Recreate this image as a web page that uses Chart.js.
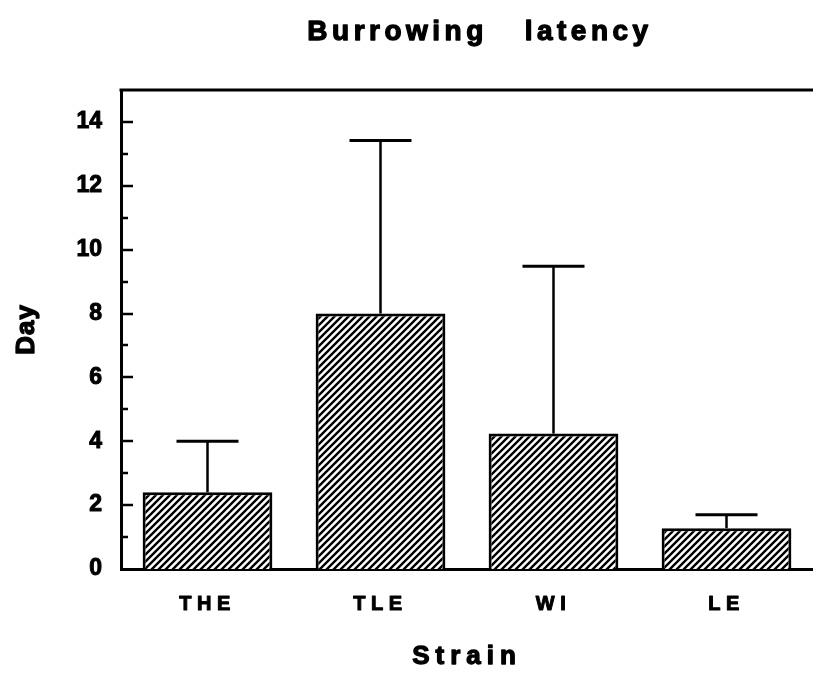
<!DOCTYPE html>
<html><head><meta charset="utf-8">
<script src="https://cdn.jsdelivr.net/npm/chart.js@4"></script>
<style>html,body{margin:0;padding:0;background:#fff;overflow:hidden}#wrap{width:813px;height:674px}</style>
</head>
<body><div id="wrap"><canvas id="c" width="813" height="674"></canvas></div>
<script>
const categories = ['THE', 'TLE', 'WI', 'LE'];
const meanDays = [2.4, 8.0, 4.24, 1.28];
const errorDays = [1.6, 5.42, 5.24, 0.42];
const yTickValues = [0, 2, 4, 6, 8, 10, 12, 14];
const chartTitle = 'Burrowing   latency';
const xTitle = 'Strain';
const yTitle = 'Day';

const FONT = "'Liberation Sans', Arial, Helvetica, sans-serif";

function hatch() {
  const s = 7;
  const p = document.createElement('canvas');
  p.width = s; p.height = s;
  const g = p.getContext('2d');
  g.fillStyle = '#fff'; g.fillRect(0, 0, s, s);
  g.strokeStyle = '#000'; g.lineWidth = 2.4;
  g.beginPath();
  g.moveTo(-1, s + 1); g.lineTo(s + 1, -1);
  g.moveTo(-1, 1); g.lineTo(1, -1);
  g.moveTo(s - 1, s + 1); g.lineTo(s + 1, s - 1);
  g.stroke();
  return document.getElementById('c').getContext('2d').createPattern(p, 'repeat');
}

// draw a scale's text with letter spacing and a thin outline (heavier glyphs)
function heavy(scale, method, ls, sw) {
  if (scale['_p_' + method]) return;
  const orig = scale[method].bind(scale);
  scale[method] = function (a) {
    const ctx = this.ctx;
    ctx.save();
    try { ctx.letterSpacing = ls; } catch (e) {}
    const f = CanvasRenderingContext2D.prototype.fillText;
    ctx.fillText = function (t, x, y, m) {
      ctx.lineWidth = sw; ctx.strokeStyle = '#000'; ctx.lineJoin = 'round';
      if (m === undefined) { ctx.strokeText(t, x, y); f.call(ctx, t, x, y); }
      else { ctx.strokeText(t, x, y, m); f.call(ctx, t, x, y, m); }
    };
    try { orig(a); } finally { delete ctx.fillText; ctx.restore(); }
  };
  scale['_p_' + method] = true;
}

const decor = {
  id: 'decor',
  afterDatasetsDraw(chart) {
    const { ctx, chartArea: a, scales: { y } } = chart;
    const meta = chart.getDatasetMeta(0);
    ctx.save();
    ctx.strokeStyle = '#000';
    meta.data.forEach((bar, i) => {
      const top = y.getPixelForValue(meanDays[i] + errorDays[i]);
      ctx.lineWidth = 2.5;
      ctx.beginPath();
      ctx.moveTo(bar.x, bar.y);
      ctx.lineTo(bar.x, top);
      ctx.stroke();
      ctx.lineWidth = 3;
      ctx.beginPath();
      ctx.moveTo(bar.x - 31, top);
      ctx.lineTo(bar.x + 31, top);
      ctx.stroke();
    });
    ctx.lineWidth = 2.5;
    y.ticks.forEach(t => {
      if (t.value <= 0 || t.value >= y.max) return;
      const py = Math.round(y.getPixelForValue(t.value));
      const len = yTickValues.includes(t.value) ? 12 : 7;
      ctx.beginPath();
      ctx.moveTo(a.left, py);
      ctx.lineTo(a.left + len, py);
      ctx.stroke();
    });
    ctx.lineWidth = 3;
    ctx.beginPath();
    ctx.moveTo(a.left - 1.5, a.top);
    ctx.lineTo(chart.width, a.top);
    ctx.stroke();
    ctx.fillStyle = '#000';
    ctx.font = 'bold 28px ' + FONT;
    try { ctx.letterSpacing = '4.5px'; } catch (e) {}
    ctx.textAlign = 'center';
    ctx.textBaseline = 'middle';
    ctx.lineWidth = 1.3; ctx.lineJoin = 'round';
    ctx.strokeText(chartTitle, 480, 32);
    ctx.fillText(chartTitle, 480, 32);
    ctx.restore();
  }
};

new Chart(document.getElementById('c'), {
  type: 'bar',
  data: {
    labels: categories,
    datasets: [{
      data: meanDays,
      backgroundColor: hatch(),
      borderColor: '#000',
      borderWidth: 3,
      borderSkipped: 'bottom',
      categoryPercentage: 1,
      barPercentage: 0.75
    }]
  },
  options: {
    responsive: false,
    animation: false,
    devicePixelRatio: 1,
    layout: { padding: { top: 90, right: 0, left: 0, bottom: 0 } },
    plugins: { legend: { display: false }, tooltip: { enabled: false }, title: { display: false } },
    scales: {
      x: {
        grid: { display: false, drawTicks: false },
        border: { display: true, color: '#000', width: 3 },
        ticks: { color: '#000', font: { family: FONT, size: 20, weight: 'bold' }, padding: 23 },
        title: { display: true, text: xTitle, color: '#000', font: { family: FONT, size: 26, weight: 'bold' }, padding: { top: 0, bottom: 2 } },
        afterFit(s) {
          s.height = 105;
          heavy(s, 'drawLabels', '5.5px', 1);
          heavy(s, 'drawTitle', '6px', 1.3);
        }
      },
      y: {
        min: 0, max: 15,
        grid: { display: false, drawTicks: false },
        border: { display: true, color: '#000', width: 3 },
        ticks: {
          stepSize: 1, autoSkip: false, color: '#000',
          font: { family: FONT, size: 23, weight: 'bold' }, padding: 19,
          callback: v => yTickValues.includes(v) ? String(v) : ''
        },
        title: { display: true, text: yTitle, color: '#000', font: { family: FONT, size: 26, weight: 'bold' }, padding: { top: 11, bottom: 0 } },
        afterFit(s) {
          s.width = 121;
          heavy(s, 'drawLabels', '0px', 1);
          heavy(s, 'drawTitle', '1px', 1.3);
        }
      }
    }
  },
  plugins: [decor]
});
</script>
</body></html>
